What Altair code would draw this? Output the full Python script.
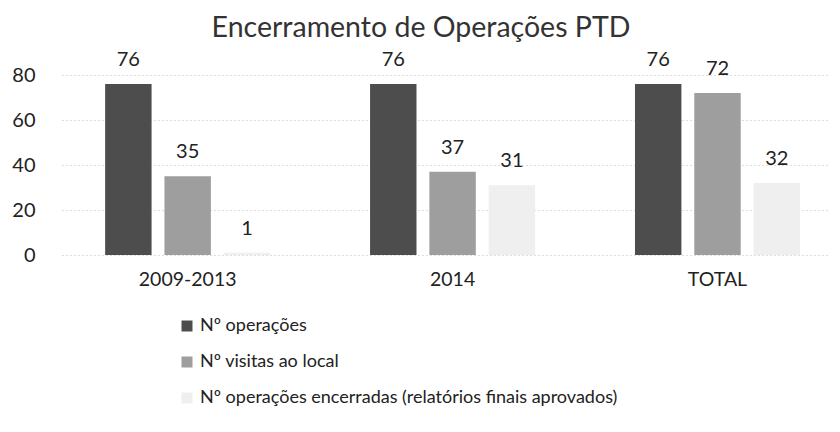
import altair as alt
import pandas as pd

categories = ["2009-2013", "2014", "TOTAL"]
series = ["Nº operações", "Nº visitas ao local", "Nº operações encerradas (relatórios finais aprovados)"]
ops = [76, 76, 76]
visitas = [35, 37, 72]
encerradas = [1, 31, 32]
colors = ["#4d4d4d", "#9e9e9e", "#efefef"]

rows = []
for i, c in enumerate(categories):
    for s, vals in zip(series, [ops, visitas, encerradas]):
        rows.append({"cat": c, "serie": s, "valor": vals[i]})
df = pd.DataFrame(rows)

FONT = "Lato"

x = alt.X("cat:N", sort=categories, title=None,
          scale=alt.Scale(paddingInner=0.377, paddingOuter=0.138, align=0.59),
          axis=alt.Axis(labelAngle=0, ticks=False, domain=False, labelPadding=15,
                        labelFontSize=19.5, labelColor="#222", labelFont=FONT, grid=False))
xo = alt.XOffset("serie:N", sort=series, scale=alt.Scale(paddingInner=0.217, paddingOuter=0))
y = alt.Y("valor:Q", title=None,
          scale=alt.Scale(domain=[0, 80], nice=False),
          axis=alt.Axis(values=[0, 20, 40, 60, 80], ticks=False, domain=False, labelPadding=27,
                        labelFontSize=20, labelColor="#222", labelFont=FONT,
                        gridColor="#bbbbbb", gridDash=[1, 3], gridWidth=1))

bars = alt.Chart(df).mark_bar().encode(
    x=x, xOffset=xo, y=y,
    color=alt.Color("serie:N", sort=series, title=None,
                    scale=alt.Scale(domain=series, range=colors),
                    legend=alt.Legend(orient="none", legendX=116, legendY=242, direction="vertical",
                                      symbolType="square", symbolSize=121, symbolStrokeWidth=0,
                                      labelFontSize=18, labelFont=FONT, labelColor="#222",
                                      rowPadding=18, labelLimit=700, labelOffset=4)),
)

labels = alt.Chart(df).mark_text(baseline="alphabetic", dy=-18, fontSize=20, font=FONT, color="#222").encode(
    x=alt.X("cat:N", sort=categories), xOffset=alt.XOffset("serie:N", sort=series),
    y=alt.Y("valor:Q"), text=alt.Text("valor:Q"),
)

chart = (bars + labels).properties(
    width=768, height=180,
    padding={"left": 54, "top": 67, "right": 0, "bottom": 169},
    autosize=alt.AutoSizeParams(type="none"),
    title=alt.TitleParams("Encerramento de Operações PTD", fontSize=28.5, font=FONT, fontWeight="normal",
                          color="#333", anchor="middle", dx=-25, offset=8),
).configure_view(stroke=None)

chart.save("out.html", embed_options={"renderer": "svg", "actions": False})
